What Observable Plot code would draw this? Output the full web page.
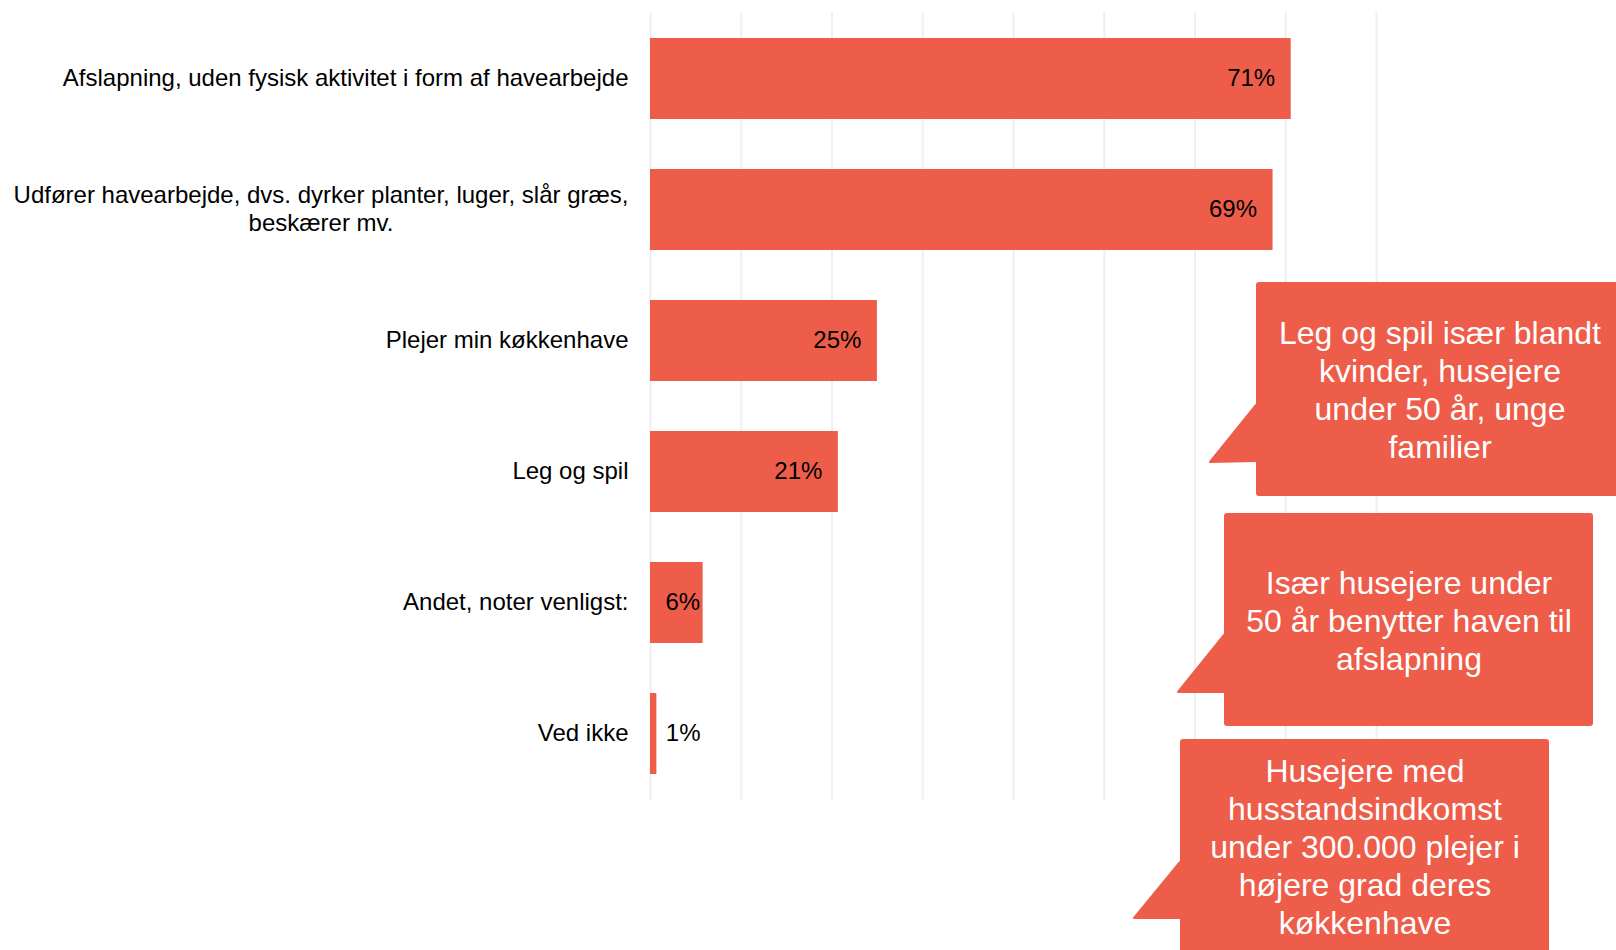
<!DOCTYPE html>
<html><head><meta charset="utf-8">
<script src="https://cdn.jsdelivr.net/npm/d3@7"></script>
<script src="https://cdn.jsdelivr.net/npm/@observablehq/plot@0.6"></script>
<style>
html,body{margin:0;padding:0;background:#fff;}
#chart{position:relative;width:1616px;height:950px;overflow:hidden;}
#chart svg{display:block;}
</style></head><body><div id="chart"></div>
<script>
// ---- data ----
const categories = [
  "Afslapning, uden fysisk aktivitet i form af havearbejde",
  "Udfører havearbejde, dvs. dyrker planter, luger, slår græs,\nbeskærer mv.",
  "Plejer min køkkenhave",
  "Leg og spil",
  "Andet, noter venligst:",
  "Ved ikke"
];
const values = [70.6, 68.6, 25.0, 20.7, 5.8, 0.7];
const valueLabels = ["71%", "69%", "25%", "21%", "6%", "1%"];
const gridTicks = [0, 10, 20, 30, 40, 50, 60, 70, 80];
const calloutTexts = [
  ["Leg og spil især blandt", "kvinder, husejere", "under 50 år, unge", "familier"],
  ["Især husejere under", "50 år benytter haven til", "afslapning"],
  ["Husejere med", "husstandsindkomst", "under 300.000 plejer i", "højere grad deres", "køkkenhave"]
];

// ---- layout / style ----
const W = 1616, H = 950;
const FONT = "'Liberation Sans', Arial, Helvetica, sans-serif";
const BAR = "#EE5C4A";
const LABEL_SIZE = 24;
const labelGap = 22;

const data = categories.map((c, i) => ({cat: c, value: values[i], label: valueLabels[i]}));

const ctx = document.createElement("canvas").getContext("2d");
ctx.font = `${LABEL_SIZE}px ${FONT}`;
const lineW = s => ctx.measureText(s).width;

const single = data.filter(d => !d.cat.includes("\n"));
const multi = data.filter(d => d.cat.includes("\n"));
const txt = {fill: "#000", fontSize: LABEL_SIZE, dy: -0.5};

const marks = [
  Plot.ruleX(gridTicks, {stroke: "#EFEFEF", strokeWidth: 2}),
  Plot.barX(data, {y: "cat", x: "value", fill: BAR}),
  Plot.text(data.filter(d => d.value >= 10), {y: "cat", x: "value", text: "label", textAnchor: "end", dx: -16, ...txt}),
  Plot.text(data.filter(d => d.value >= 3 && d.value < 10), {y: "cat", x: "value", text: "label", textAnchor: "end", dx: -3, ...txt}),
  Plot.text(data.filter(d => d.value < 3), {y: "cat", x: "value", text: "label", textAnchor: "start", dx: 9, ...txt}),
  Plot.text(single, {y: "cat", x: 0, text: "cat", textAnchor: "end", dx: -labelGap, ...txt}),
  ...multi.map(d => {
    const w = d3.max(d.cat.split("\n"), lineW);
    return Plot.text([d], {y: "cat", x: 0, text: "cat", textAnchor: "middle", dx: -labelGap - w / 2, lineHeight: 1.15, fill: "#000", fontSize: LABEL_SIZE, dy: -2});
  })
];

const chart = Plot.plot({
  width: W, height: H,
  marginLeft: 650, marginRight: 240, marginTop: 12, marginBottom: 150,
  x: {domain: [0, 80], axis: null},
  y: {domain: categories, axis: null, paddingInner: 0.38, paddingOuter: 0.19},
  style: {fontFamily: FONT, fontSize: LABEL_SIZE + "px", background: "#fff", color: "#000"},
  marks
});
document.getElementById("chart").appendChild(chart);

// ---- callout annotations ----
const callouts = [
  {box: [1256, 282, 400, 214], tail: [[1256, 405], [1210, 462], [1256, 461]], cx: 1440, base: 344},
  {box: [1224, 513, 369, 213], tail: [[1224, 635], [1178, 692], [1224, 692]], cx: 1409, base: 594},
  {box: [1180, 739, 369, 260], tail: [[1180, 862], [1134, 918], [1180, 918]], cx: 1365, base: 782}
];
const g = d3.select(chart).append("g");
callouts.forEach((c, i) => {
  const [x, y, w, h] = c.box;
  g.append("polygon").attr("points", c.tail.map(p => p.join(",")).join(" "))
    .attr("fill", BAR).attr("stroke", BAR).attr("stroke-linejoin", "round").attr("stroke-width", 2);
  g.append("rect").attr("x", x).attr("y", y).attr("width", w).attr("height", h).attr("rx", 3).attr("fill", BAR);
  calloutTexts[i].forEach((t, j) => {
    g.append("text").attr("x", c.cx).attr("y", c.base + j * 38)
      .attr("text-anchor", "middle").attr("fill", "#fff")
      .attr("font-family", FONT).attr("font-size", 32).text(t);
  });
});
</script>
</body></html>
